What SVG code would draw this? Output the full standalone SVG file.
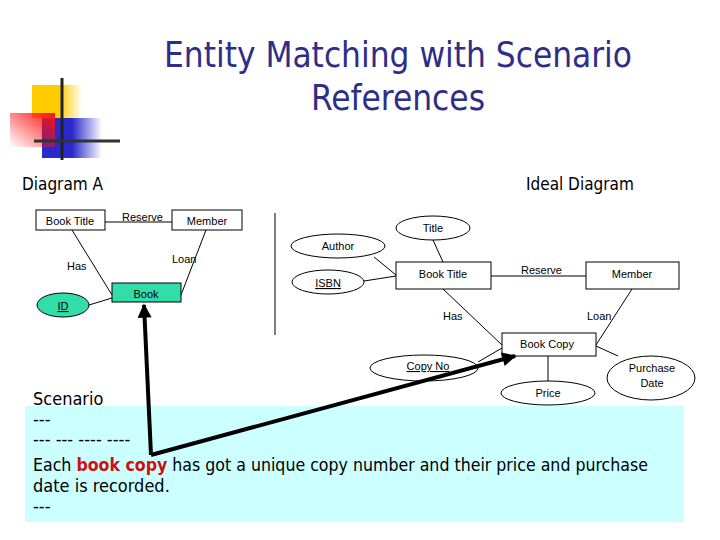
<svg xmlns="http://www.w3.org/2000/svg" width="720" height="540" viewBox="0 0 720 540">
<defs>
<linearGradient id="gy" x1="0" y1="0" x2="1" y2="0"><stop offset="0.55" stop-color="#ffcc00"/><stop offset="1" stop-color="#ffcc00" stop-opacity="0"/></linearGradient>
<linearGradient id="gb" x1="0" y1="0" x2="1" y2="0"><stop offset="0.5" stop-color="#2a2acc"/><stop offset="1" stop-color="#2a2acc" stop-opacity="0"/></linearGradient>
<linearGradient id="gr" x1="1" y1="0" x2="0" y2="1"><stop offset="0" stop-color="#ff1010"/><stop offset="1" stop-color="#ff1010" stop-opacity="0"/></linearGradient>
<marker id="ah" viewBox="0 0 10 10" refX="9" refY="5" markerWidth="4" markerHeight="3.5" orient="auto" markerUnits="strokeWidth"><path d="M0,0 L10,5 L0,10 z" fill="#000"/></marker>
<style>
.t{font-family:"Liberation Sans",Arial,sans-serif;font-size:11px;fill:#000}
.m{text-anchor:middle}
.u{text-decoration:underline}
.b{fill:#fff;stroke:#000;stroke-width:1}
.g{fill:#33ddaa;stroke:#000;stroke-width:1}
.c line{stroke:#000;stroke-width:1}
.h{font-family:"DejaVu Sans Condensed","DejaVu Sans",sans-serif;font-size:17px;fill:#000}
.s{font-family:"DejaVu Sans Condensed","DejaVu Sans",sans-serif;font-size:18px;fill:#000}
</style>
</defs>
<rect width="720" height="540" fill="#fff"/>
<g id="logo">
<rect x="32" y="85" width="50" height="33" fill="url(#gy)"/>
<rect x="42" y="118" width="60" height="40" fill="url(#gb)"/>
<rect x="10" y="113" width="45" height="34" fill="url(#gr)"/>
<line x1="62" y1="78" x2="62" y2="160" stroke="#222" stroke-width="3"/>
<line x1="34" y1="141" x2="120" y2="141" stroke="#333" stroke-width="3"/>
</g>
<g id="title" font-family="'DejaVu Sans Condensed','DejaVu Sans',sans-serif" font-size="36" fill="#2e2e88" text-anchor="middle">
<text x="398" y="67" textLength="468" lengthAdjust="spacingAndGlyphs">Entity Matching with Scenario</text>
<text x="398" y="110" textLength="174" lengthAdjust="spacingAndGlyphs">References</text>
</g>
<text class="h" x="22" y="190">Diagram A</text>
<text class="h" x="526" y="190">Ideal Diagram</text>
<line x1="275" y1="213" x2="275" y2="335" stroke="#000" stroke-width="1"/>
<g class="c" id="connectors">
<line x1="105" y1="222" x2="172" y2="222"/>
<line x1="72" y1="230" x2="112" y2="295"/>
<line x1="206" y1="230" x2="181" y2="295"/>
<line x1="89" y1="305" x2="112" y2="298"/>
<line x1="433" y1="240" x2="443" y2="262"/>
<line x1="374" y1="257" x2="396" y2="275"/>
<line x1="364" y1="281" x2="396" y2="276"/>
<line x1="491" y1="276" x2="586" y2="276"/>
<line x1="443" y1="289" x2="502" y2="345"/>
<line x1="632" y1="289" x2="596" y2="345"/>
<line x1="478" y1="362" x2="502" y2="348"/>
<line x1="548" y1="356" x2="548" y2="381"/>
<line x1="596" y1="346" x2="618" y2="356"/>
</g>
<g id="a-booktitle"><rect class="b" x="36" y="210" width="69" height="20"/><text class="t m" x="70" y="225">Book Title</text></g>
<g id="a-member"><rect class="b" x="172" y="210" width="70" height="20"/><text class="t m" x="207" y="225">Member</text></g>
<g id="a-book"><rect class="g" x="112" y="283" width="69" height="19"/><text class="t m" x="146" y="298">Book</text></g>
<g id="a-id"><ellipse class="g" cx="63" cy="305" rx="26" ry="12"/><text class="t m u" x="63" y="310">ID</text></g>
<text class="t" x="122" y="221">Reserve</text>
<text class="t" x="67" y="270">Has</text>
<text class="t" x="172" y="263">Loan</text>
<g id="i-title"><ellipse class="b" cx="433" cy="228" rx="37" ry="12"/><text class="t m" x="433" y="232">Title</text></g>
<g id="i-author"><ellipse class="b" cx="338" cy="246" rx="47" ry="12"/><text class="t m" x="338" y="250">Author</text></g>
<g id="i-isbn"><ellipse class="b" cx="328" cy="282" rx="36" ry="12"/><text class="t m u" x="328" y="287">ISBN</text></g>
<g id="i-booktitle"><rect class="b" x="396" y="262" width="95" height="27"/><text class="t m" x="443" y="278">Book Title</text></g>
<g id="i-member"><rect class="b" x="586" y="262" width="93" height="27"/><text class="t m" x="632" y="278">Member</text></g>
<g id="i-bookcopy"><rect class="b" x="502" y="333" width="94" height="23"/><text class="t m" x="547" y="348">Book Copy</text></g>
<g id="i-copyno"><ellipse class="b" cx="424" cy="368" rx="54" ry="13"/><text class="t m u" x="428" y="370">Copy No</text></g>
<g id="i-price"><ellipse class="b" cx="548" cy="393" rx="47" ry="12"/><text class="t m" x="548" y="397">Price</text></g>
<g id="i-purchase"><ellipse class="b" cx="651" cy="378" rx="44" ry="22"/><text class="t m" x="652" y="372">Purchase</text><text class="t m" x="652" y="387">Date</text></g>
<text class="t" x="521" y="274">Reserve</text>
<text class="t" x="443" y="320">Has</text>
<text class="t" x="587" y="320">Loan</text>
<g id="scenario">
<rect x="25" y="406" width="659" height="116" fill="#ccffff"/>
<text class="s" x="33" y="405">Scenario</text>
<text class="s" x="33" y="425">---</text>
<text class="s" x="33" y="445">--- --- ---- ----</text>
<text class="s" x="33" y="471" textLength="615" lengthAdjust="spacingAndGlyphs">Each <tspan fill="#cc1111" font-weight="bold">book copy</tspan> has got a unique copy number and their price and purchase</text>
<text class="s" x="33" y="492">date is recorded.</text>
<text class="s" x="33" y="512">---</text>
</g>
<g id="arrows" stroke="#000" stroke-width="4" fill="none">
<line x1="151" y1="455" x2="144" y2="305" marker-end="url(#ah)"/>
<line x1="151" y1="455" x2="515" y2="356" marker-end="url(#ah)"/>
</g>
</svg>
